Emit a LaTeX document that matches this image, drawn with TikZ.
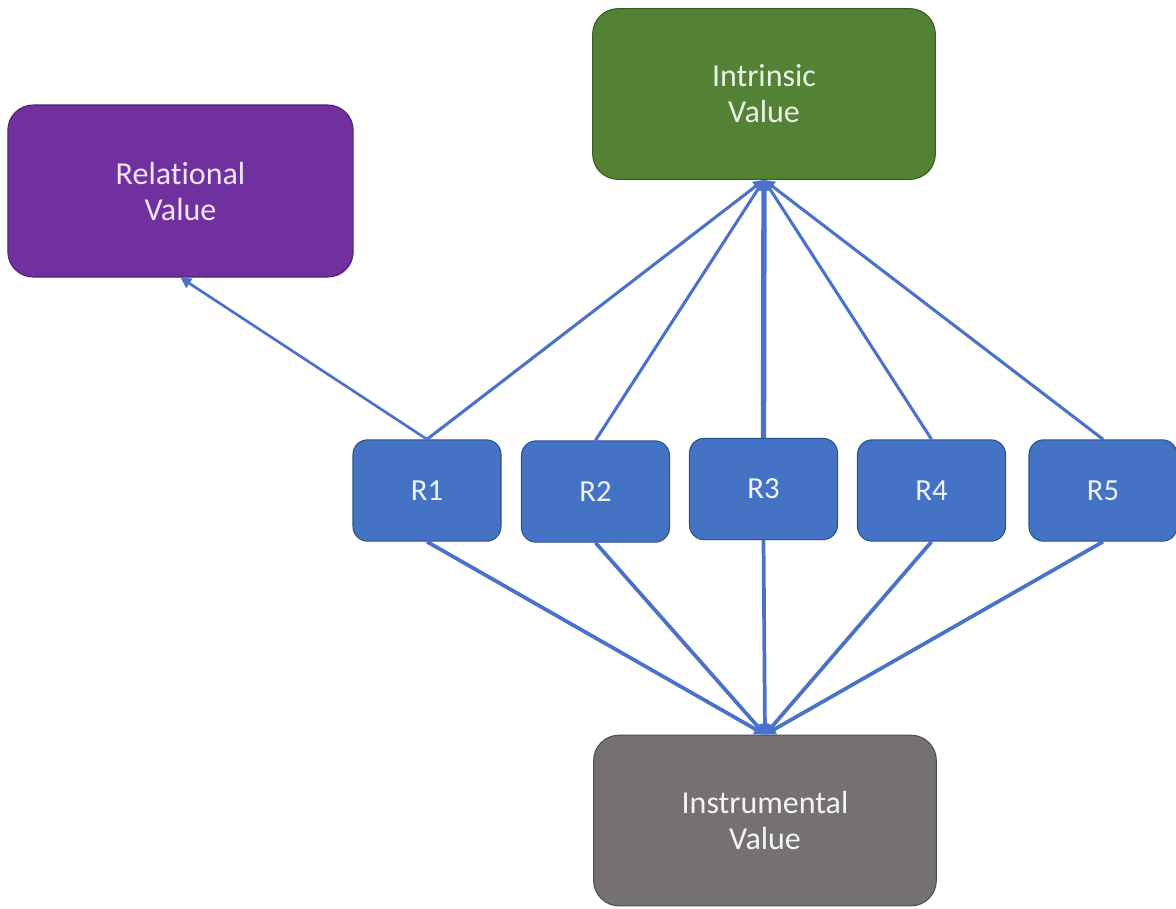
\documentclass[tikz,border=0pt]{standalone}
\usepackage{fontspec}
\setmainfont{Carlito}[Ligatures=NoCommon]
\usetikzlibrary{arrows.meta}
\definecolor{purp}{HTML}{7030A0}
\definecolor{grn}{HTML}{548235}
\definecolor{gry}{HTML}{767171}
\definecolor{blu}{HTML}{4472C4}
\definecolor{bluline}{HTML}{4A72C8}
\tikzset{
  bigbox/.style={draw=#1!70!black, line width=0.8pt, fill=#1, rounded corners=19pt,
    minimum width=257pt, minimum height=128pt, align=center, inner sep=0pt,
    font=\fontsize{24}{27}\selectfont},
  rbox/.style={draw=blu!70!black, line width=0.8pt, fill=blu, rounded corners=11pt,
    minimum width=111pt, minimum height=76pt, text=white!92!blu, inner sep=0pt,
    font=\fontsize{23}{26}\selectfont},
  conn/.style={draw=bluline, line width=2.3pt, -{Triangle[length=8pt,width=8pt]}},
  connb/.style={conn, line width=2.8pt}
}
\begin{document}
\begin{tikzpicture}[x=0.75pt,y=-0.75pt]
\useasboundingbox (0,0) rectangle (1176,908);
\node[bigbox=purp, text=purp!12!white, minimum width=259pt, minimum height=129pt] (rel) at (180.5,191) {Relational\\Value};
\node[bigbox=grn, text=grn!12!white] (intr) at (764,94) {Intrinsic\\Value};
\node[bigbox=gry, text=gry!8!white] (inst) at (765,820.5) {Instrumental\\Value};
\node[rbox] (r1) at (427,490.5) {R1};
\node[rbox] (r2) at (595.5,491.5) {R2};
\node[rbox] (r3) at (763.5,489) {R3};
\node[rbox] (r4) at (931.5,490.5) {R4};
\node[rbox] (r5) at (1103,490.5) {R5};
% to intrinsic
\draw[conn] (r1.north) -- (intr.south);
\draw[conn] (r2.north) -- (intr.south);
\draw[conn, line width=4pt] (r3.north) -- (intr.south);
\draw[conn] (r4.north) -- (intr.south);
\draw[conn] (r5.north) -- (intr.south);
% to relational
\draw[conn, line width=2pt] (r1.north) -- (rel.south);
% to instrumental
\draw[connb] (r1.south) -- (inst.north);
\draw[connb] (r2.south) -- (inst.north);
\draw[connb] (r3.south) -- (inst.north);
\draw[connb] (r4.south) -- (inst.north);
\draw[connb] (r5.south) -- (inst.north);
\end{tikzpicture}
\end{document}
